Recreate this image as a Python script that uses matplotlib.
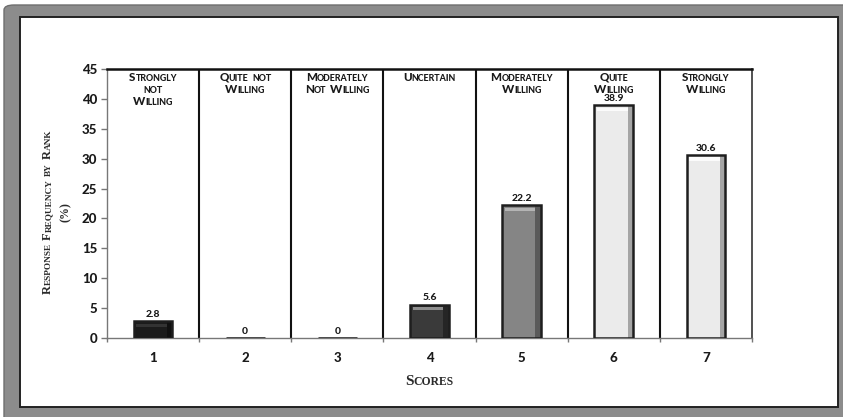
import matplotlib
matplotlib.use("Agg")
import matplotlib.pyplot as plt
from matplotlib.patches import Rectangle, FancyBboxPatch
from matplotlib.text import Text
from matplotlib.transforms import blended_transform_factory, offset_copy

# ---- data -------------------------------------------------------------
scores = [1, 2, 3, 4, 5, 6, 7]
categories = [
    ["Strongly", "not", "Willing"],
    ["Quite not", "Willing"],
    ["Moderately", "Not Willing"],
    ["Uncertain"],
    ["Moderately", "Willing"],
    ["Quite", "Willing"],
    ["Strongly", "Willing"],
]
freq = [2.8, 0, 0, 5.6, 22.2, 38.9, 30.6]
bar_colors = ["#1b1b1b", "#1b1b1b", "#1b1b1b", "#3a3a3a", "#858585", "#ebebeb", "#ebebeb"]
bevel_light = ["#333333", "#333333", "#333333", "#8e8e8e", "#b4b4b4", "#fbfbfb", "#fbfbfb"]
bevel_dark = ["#101010", "#101010", "#101010", "#252525", "#5a5a5a", "#a5a5a5", "#a5a5a5"]
y_ticks = [0, 5, 10, 15, 20, 25, 30, 35, 40, 45]

W, H = 843, 417
fig = plt.figure(figsize=(W / 100, H / 100), dpi=100)
fig.patch.set_facecolor("white")

SANS = "Lato"
SANS_W = "black"
SERIF = "Liberation Serif"
BAR_W = 0.42


def fy(y):
    return 1 - y / H


# ---- outer frame -------------------------------------------------------
fig.add_artist(FancyBboxPatch((4 / W, fy(430)), 860 / W, 425 / H,
                              boxstyle="round,pad=0,rounding_size=0.012",
                              transform=fig.transFigure, facecolor="#8c8c8c",
                              edgecolor="#6e6e6e", linewidth=1.0, zorder=0))
fig.add_artist(Rectangle((20 / W, fy(407)), (838 - 20) / W, (407 - 17) / H,
                         transform=fig.transFigure, facecolor="white",
                         edgecolor="#222222", linewidth=1.4, zorder=0.5))

# ---- axes --------------------------------------------------------------
ax = fig.add_axes([107 / W, fy(338), (752 - 107) / W, (338 - 69) / H])
ax.set_zorder(2)
ax.patch.set_alpha(0)
ax.set_xlim(0.5, 7.5)
ax.set_ylim(0, 45)

ax.bar(scores, freq, width=BAR_W, color=bar_colors, linewidth=0, zorder=3)

# bevel shading: darker right side, lighter band along the top
for x, v, lc, dc in zip(scores, freq, bevel_light, bevel_dark):
    if v <= 0:
        continue
    ax.bar(x + BAR_W / 2 - 0.03, v, width=0.06, color=dc, linewidth=0, zorder=3.1)
    ax.bar(x - 0.015, 0.55, bottom=v - 0.95, width=BAR_W - 0.09, color=lc,
           linewidth=0, zorder=3.2)

ax.bar(scores, freq, width=BAR_W, color="none", edgecolor="#1e1e1e",
       linewidth=1.8, zorder=3.5)

# panel dividers
for b in [1.5, 2.5, 3.5, 4.5, 5.5, 6.5]:
    ax.axvline(b, color="#111111", linewidth=1.5, zorder=2)

for side, col, lw in [("top", "#111111", 1.8), ("right", "#333333", 1.2),
                      ("left", "#777777", 1.0), ("bottom", "#777777", 1.0)]:
    ax.spines[side].set_color(col)
    ax.spines[side].set_linewidth(lw)

tick_font = dict(family=SANS, weight=SANS_W, size=9.5, color="#1a1a1a")
ax.set_yticks(y_ticks)
ax.set_yticklabels([str(v) for v in y_ticks], fontdict=tick_font)
ax.tick_params(axis="y", length=4, width=1, color="#777777", pad=3)
ax.set_xticks(scores)
ax.set_xticklabels([str(s) for s in scores], fontdict=tick_font)
ax.tick_params(axis="x", which="major", length=0, pad=10)
ax.set_xticks([b + 0.5 for b in range(0, 8)], minor=True)
ax.tick_params(axis="x", which="minor", length=3, width=1, color="#777777")

# value labels
for x, v in zip(scores, freq):
    ax.annotate(f"{v:g}", xy=(x, v), xytext=(0, 1.5), textcoords="offset points",
                ha="center", va="bottom", family=SANS, weight=SANS_W,
                size=7.5, color="#1a1a1a", zorder=4)

# ---- small caps text helper -------------------------------------------
renderer = fig.canvas.get_renderer()


def text_width_pt(s, size, family, weight):
    t = Text(0, 0, s, fontsize=size, family=family, weight=weight)
    t.set_figure(fig)
    return t.get_window_extent(renderer=renderer).width * 72 / fig.dpi


def smallcaps(transform, x, y, text, size, ratio=0.78, family=SANS,
              weight=SANS_W, color="#1a1a1a", rotation=0):
    small = size * ratio
    pieces = []
    words = text.split(" ")
    for wi, word in enumerate(words):
        chunk, big = "", None
        for ch in word:
            is_big = not ch.islower()
            if big is None or is_big == big:
                chunk += ch
            else:
                pieces.append((chunk.upper(), big))
                chunk = ch
            big = is_big
        if chunk:
            pieces.append((chunk.upper(), big))
        if wi < len(words) - 1:
            pieces.append((None, None))
    widths = []
    for s, big in pieces:
        if s is None:
            widths.append(size * 0.3)
        else:
            widths.append(text_width_pt(s, size if big else small, family, weight))
    total = sum(widths)
    off = -total / 2
    for (s, big), w in zip(pieces, widths):
        if s is not None:
            if rotation == 0:
                tr = offset_copy(transform, fig=fig, x=off, y=0, units="points")
            else:
                tr = offset_copy(transform, fig=fig, x=0, y=off, units="points")
            fig.text(x, y, s, transform=tr, fontsize=size if big else small,
                     family=family, weight=weight, color=color,
                     ha="left", va="baseline", rotation=rotation,
                     rotation_mode="anchor", zorder=5)
        off += w


# category headings, top of each panel (baselines in pixels from the top)
head_tr = blended_transform_factory(ax.transData, ax.transAxes)
for x, lines in zip(scores, categories):
    for i, line in enumerate(lines):
        y_px = 81 + i * 12
        y_ax = (338 - y_px) / (338 - 69)
        smallcaps(head_tr, x, y_ax, line, 8.4, ratio=0.76)

# axis titles
smallcaps(fig.transFigure, 429 / W, fy(385), "Scores", 11, ratio=0.76,
          family=SERIF, weight="bold", color="#2a2a2a")
smallcaps(fig.transFigure, 51 / W, fy(212), "Response Frequency by Rank", 8.8,
          ratio=0.76, family=SERIF, weight="bold",
          color="#2a2a2a", rotation=90)
smallcaps(fig.transFigure, 69 / W, fy(212), "(%)", 8.5, ratio=0.76,
          family=SERIF, weight="bold", color="#2a2a2a",
          rotation=90)

fig.savefig("out.png", dpi=100)
